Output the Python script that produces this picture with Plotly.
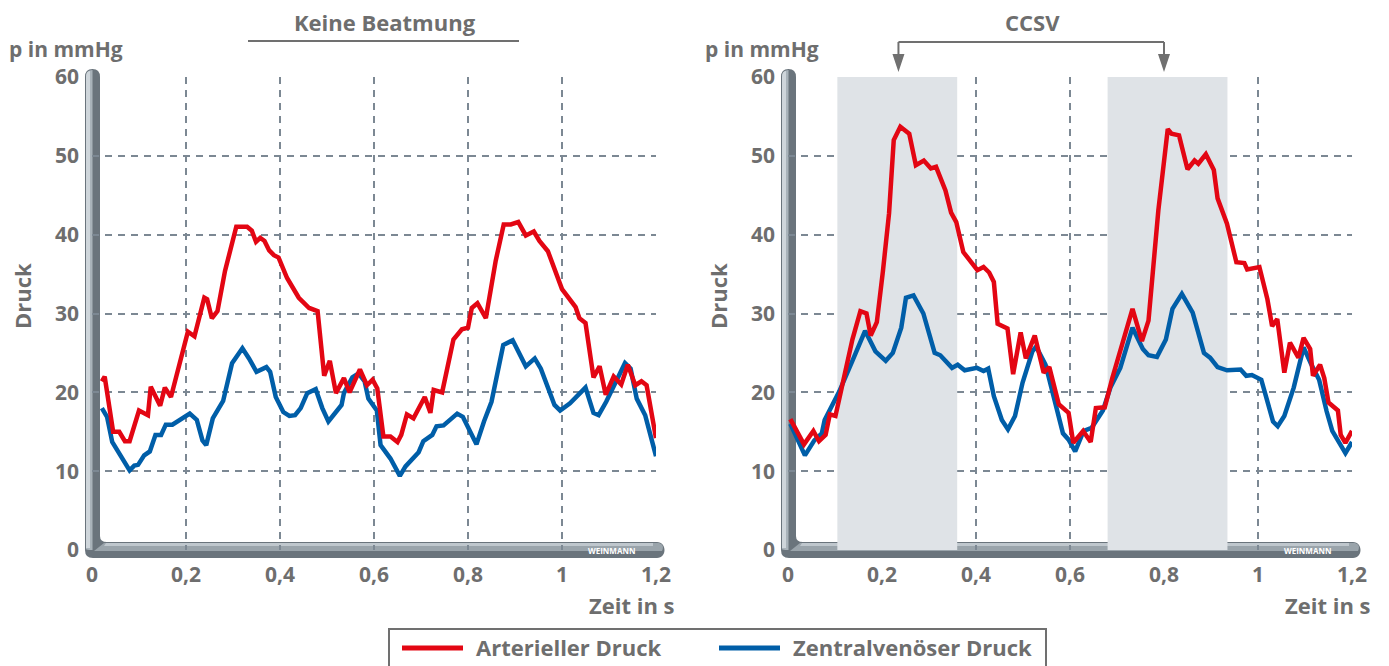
import plotly.graph_objects as go

W, H = 1389, 666

# ---------------- data ----------------
X_TICKS = [0, 0.2, 0.4, 0.6, 0.8, 1.0, 1.2]
X_TICK_LABELS = ["0", "0,2", "0,4", "0,6", "0,8", "1", "1,2"]
Y_TICKS = [0, 10, 20, 30, 40, 50, 60]

# Left: keine Beatmung
L_ART_T = [0.021, 0.027, 0.045, 0.058, 0.07, 0.08, 0.1, 0.119, 0.125, 0.145, 0.155, 0.168,
           0.204, 0.218, 0.239, 0.245, 0.255, 0.267, 0.283, 0.307, 0.33, 0.34, 0.349, 0.358,
           0.367, 0.377, 0.387, 0.397, 0.415, 0.44, 0.462, 0.48, 0.494, 0.506, 0.519, 0.536,
           0.548, 0.57, 0.585, 0.597, 0.607, 0.62, 0.635, 0.65, 0.658, 0.67, 0.684, 0.708,
           0.72, 0.727, 0.745, 0.769, 0.787, 0.8, 0.808, 0.82, 0.838, 0.859, 0.876, 0.891,
           0.907, 0.923, 0.94, 0.952, 0.97, 0.988, 1.0, 1.029, 1.037, 1.05, 1.067, 1.08,
           1.093, 1.11, 1.126, 1.14, 1.156, 1.169, 1.18, 1.2]
L_ART_P = [21.4, 22.0, 15.0, 15.0, 13.8, 13.8, 17.7, 17.1, 20.7, 18.3, 20.6, 19.4,
           27.7, 27.1, 32.0, 31.8, 29.4, 30.3, 35.4, 41.0, 41.0, 40.5, 39.1, 39.6,
           39.2, 38.0, 37.4, 37.1, 34.5, 32.0, 30.7, 30.3, 22.1, 24.0, 19.9, 21.8,
           20.0, 22.9, 20.9, 21.6, 20.5, 14.4, 14.4, 13.7, 14.6, 17.2, 16.7, 19.4,
           17.4, 20.3, 20.0, 26.7, 28.0, 28.2, 30.7, 31.3, 29.4, 36.7, 41.3, 41.3,
           41.6, 39.9, 40.4, 39.2, 37.9, 34.8, 33.1, 30.8, 29.4, 28.8, 21.9, 23.3,
           19.7, 22.0, 21.0, 23.5, 20.9, 21.4, 20.9, 14.2]

L_ZVD_T = [0.021, 0.032, 0.043, 0.066, 0.08, 0.09, 0.098, 0.111, 0.123, 0.135, 0.147, 0.157,
           0.171, 0.208, 0.223, 0.235, 0.243, 0.257, 0.279, 0.298, 0.32, 0.334, 0.35, 0.371,
           0.379, 0.391, 0.407, 0.42, 0.432, 0.444, 0.458, 0.476, 0.49, 0.503, 0.521, 0.531,
           0.536, 0.554, 0.567, 0.58, 0.588, 0.606, 0.614, 0.635, 0.655, 0.667, 0.695, 0.705,
           0.724, 0.733, 0.748, 0.777, 0.789, 0.818, 0.834, 0.85, 0.875, 0.895, 0.923, 0.942,
           0.955, 0.984, 0.996, 1.017, 1.05, 1.067, 1.078, 1.094, 1.134, 1.146, 1.159, 1.177, 1.2]
L_ZVD_P = [18.0, 16.9, 13.7, 11.6, 10.1, 10.7, 10.8, 12.0, 12.5, 14.6, 14.6, 15.9,
           15.9, 17.3, 16.5, 13.9, 13.3, 16.7, 18.9, 23.7, 25.6, 24.3, 22.6, 23.2,
           22.6, 19.4, 17.5, 17.0, 17.1, 18.0, 19.9, 20.4, 18.0, 16.3, 17.7, 18.4,
           19.9, 21.9, 22.4, 21.4, 19.2, 17.7, 13.3, 11.6, 9.4, 10.6, 12.4, 13.8,
           14.6, 15.7, 15.8, 17.3, 16.9, 13.4, 16.3, 18.8, 26.0, 26.6, 23.3, 24.3,
           23.0, 18.4, 17.7, 18.6, 20.6, 17.4, 17.1, 18.8, 23.7, 23.0, 19.2, 17.1, 11.9]

# Right: CCSV
R_ART_T = [0.005, 0.034, 0.054, 0.066, 0.08, 0.089, 0.101, 0.117, 0.137, 0.154, 0.167, 0.176,
           0.189, 0.202, 0.215, 0.225, 0.239, 0.258, 0.272, 0.289, 0.304, 0.315, 0.335, 0.347,
           0.358, 0.373, 0.387, 0.403, 0.416, 0.428, 0.438, 0.446, 0.467, 0.479, 0.495, 0.506,
           0.525, 0.544, 0.556, 0.576, 0.597, 0.607, 0.628, 0.644, 0.655, 0.674, 0.69, 0.711,
           0.733, 0.753, 0.767, 0.788, 0.808, 0.816, 0.832, 0.85, 0.865, 0.873, 0.889, 0.906,
           0.914, 0.934, 0.954, 0.971, 0.977, 1.003, 1.02, 1.03, 1.041, 1.056, 1.068, 1.086,
           1.097, 1.111, 1.117, 1.132, 1.141, 1.15, 1.17, 1.176, 1.186, 1.2]
R_ART_P = [16.6, 13.4, 15.1, 13.8, 14.6, 17.2, 17.0, 21.2, 26.7, 30.3, 30.0, 27.2,
           28.9, 35.4, 42.7, 52.0, 53.7, 52.8, 48.8, 49.4, 48.4, 48.6, 45.6, 42.8,
           41.6, 37.8, 36.7, 35.5, 35.9, 35.2, 34.0, 28.7, 28.1, 22.3, 27.6, 24.3,
           27.2, 22.5, 23.2, 18.5, 17.4, 13.6, 15.1, 13.7, 18.0, 18.1, 21.8, 26.1,
           30.6, 26.5, 29.1, 43.1, 53.4, 52.8, 52.6, 48.3, 49.4, 49.0, 50.2, 48.2,
           44.6, 41.4, 36.5, 36.4, 35.6, 35.9, 31.8, 28.4, 29.3, 22.5, 26.3, 24.4,
           26.9, 25.5, 22.1, 23.5, 21.8, 18.7, 17.7, 14.6, 13.6, 15.1]

R_ZVD_T = [0.005, 0.036, 0.056, 0.072, 0.078, 0.109, 0.137, 0.164, 0.186, 0.208, 0.223, 0.241,
           0.251, 0.267, 0.288, 0.312, 0.324, 0.349, 0.361, 0.376, 0.402, 0.416, 0.426, 0.438,
           0.455, 0.468, 0.483, 0.499, 0.52, 0.528, 0.548, 0.569, 0.585, 0.597, 0.611, 0.629,
           0.646, 0.67, 0.686, 0.707, 0.723, 0.733, 0.755, 0.767, 0.785, 0.804, 0.818, 0.838,
           0.861, 0.885, 0.898, 0.914, 0.934, 0.963, 0.975, 0.987, 1.007, 1.02, 1.032, 1.042,
           1.056, 1.076, 1.097, 1.113, 1.13, 1.146, 1.158, 1.186, 1.2]
R_ZVD_P = [16.0, 12.0, 13.9, 14.8, 16.5, 20.1, 24.0, 27.8, 25.2, 24.0, 25.0, 28.2,
           32.0, 32.3, 30.0, 25.0, 24.7, 23.1, 23.5, 22.8, 23.1, 22.7, 23.0, 19.5,
           16.5, 15.3, 17.0, 21.2, 25.2, 25.8, 23.5, 18.5, 14.8, 14.0, 12.5, 15.1,
           15.5, 17.7, 20.6, 23.1, 26.1, 28.2, 25.5, 24.7, 24.5, 26.7, 30.6, 32.5,
           30.1, 25.0, 24.4, 23.2, 22.8, 22.9, 22.1, 22.2, 21.6, 18.9, 16.3, 15.7,
           17.0, 20.6, 25.7, 23.6, 21.6, 17.6, 15.1, 12.3, 13.7]

CCSV_BANDS = [(0.105, 0.36), (0.68, 0.935)]
CCSV_ARROWS = [0.235, 0.80]

SERIES_NAMES = ["Arterieller Druck", "Zentralvenöser Druck"]
RED = "#e30613"
BLUE = "#005ea8"
TXT = "#6e6e6e"
GRID = "#7c8893"
FONT = "Open Sans"
FS = 22

# ---------------- geometry (pixels) ----------------
PLOT_TOP, PLOT_BOT = 77, 550
LX0, LX1 = 92, 656
RX0, RX1 = 788, 1352


def px(x):
    return x / W


def py(y):
    return 1 - y / H


fig = go.Figure()

for xa, ya, t1, p1, t2, p2 in [
    ("x", "y", L_ART_T, L_ART_P, L_ZVD_T, L_ZVD_P),
    ("x2", "y2", R_ART_T, R_ART_P, R_ZVD_T, R_ZVD_P),
]:
    fig.add_trace(go.Scatter(x=t2, y=p2, mode="lines", name=SERIES_NAMES[1],
                             line=dict(color=BLUE, width=4.5), xaxis=xa, yaxis=ya,
                             showlegend=False))
    fig.add_trace(go.Scatter(x=t1, y=p1, mode="lines", name=SERIES_NAMES[0],
                             line=dict(color=RED, width=4.5), xaxis=xa, yaxis=ya,
                             showlegend=False))

tickfont = dict(family=FONT, size=21, color=TXT, weight="bold")
axis_common = dict(range=[0, 1.2], tickvals=X_TICKS, ticktext=X_TICK_LABELS,
                   showgrid=True, gridcolor=GRID, gridwidth=1.6, griddash="7px,6px",
                   zeroline=False, showline=False, ticks="",
                   tickfont=tickfont, ticklabelstandoff=10, fixedrange=True)
yaxis_common = dict(range=[0, 60], tickvals=Y_TICKS,
                    showgrid=True, gridcolor=GRID, gridwidth=1.6, griddash="7px,6px",
                    zeroline=False, showline=False, ticks="",
                    tickfont=tickfont, ticklabelstandoff=12, fixedrange=True)

fig.update_layout(
    width=W, height=H,
    margin=dict(l=0, r=0, t=0, b=0, autoexpand=False),
    paper_bgcolor="white", plot_bgcolor="white",
    showlegend=False,
    xaxis=dict(domain=[px(LX0), px(LX1)], anchor="y", **axis_common),
    yaxis=dict(domain=[py(PLOT_BOT), py(PLOT_TOP)], anchor="x", **yaxis_common),
    xaxis2=dict(domain=[px(RX0), px(RX1)], anchor="y2", **axis_common),
    yaxis2=dict(domain=[py(PLOT_BOT), py(PLOT_TOP)], anchor="x2", **yaxis_common),
)

shapes = []
# shaded CCSV bands
for a, b in CCSV_BANDS:
    shapes.append(dict(type="rect", xref="x2", yref="y2", x0=a, x1=b, y0=0, y1=60,
                       fillcolor="#dfe3e7", line=dict(width=0), layer="between"))


def P(x, y):
    return f"{px(x):.6f},{py(y):.6f}"


def axis_bar(x0, x1):
    out = []
    l, r = x0 - 7, x0 + 8
    top = 69
    t, bt = 542, 558
    end = x1 + 9
    d = (f"M{P(l, top + 8)} Q{P(l, top)} {P((l + r) / 2, top)} Q{P(r, top)} {P(r, top + 8)} "
         f"L{P(r, t - 6)} Q{P(r, t)} {P(r + 7, t)} L{P(end - 8, t)} "
         f"C{P(end + 2, t)} {P(end + 2, bt)} {P(end - 8, bt)} "
         f"L{P(l + 8, bt)} Q{P(l, bt)} {P(l, bt - 8)} Z")
    out.append(dict(type="path", xref="paper", yref="paper", path=d,
                    fillcolor="#6a747c", line=dict(width=0), layer="between"))
    d = (f"M{P(r + 4, t + 1)} L{P(end - 8, t + 1)} C{P(end - 2, t + 1)} {P(end - 1, t + 5)} {P(end - 3, t + 9)} "
         f"L{P(l + 9, t + 9)} Z")
    out.append(dict(type="path", xref="paper", yref="paper", path=d,
                    fillcolor="#9aa4ab", line=dict(width=0), layer="between"))
    d = (f"M{P(r + 6, t + 1)} L{P(end - 12, t + 1)} L{P(end - 12, t + 4)} L{P(r + 4, t + 4)} Z")
    out.append(dict(type="path", xref="paper", yref="paper", path=d,
                    fillcolor="#bfc7cd", line=dict(width=0), layer="between"))
    d = (f"M{P(l + 1, top + 8)} Q{P(l + 1, top + 1)} {P((l + r) / 2, top + 1)} "
         f"L{P((l + r) / 2, t + 8)} Q{P(l + 1, t + 8)} {P(l + 1, bt - 9)} Z")
    out.append(dict(type="path", xref="paper", yref="paper", path=d,
                    fillcolor="#a9b3ba", line=dict(width=0), layer="between"))
    d = (f"M{P(l + 1, top + 8)} Q{P(l + 1, top + 2)} {P(l + 5, top + 2)} "
         f"L{P(l + 5, t + 6)} Q{P(l + 1, t + 6)} {P(l + 1, bt - 10)} Z")
    out.append(dict(type="path", xref="paper", yref="paper", path=d,
                    fillcolor="#cfd6db", line=dict(width=0), layer="between"))
    return out


shapes += axis_bar(LX0, LX1)
shapes += axis_bar(RX0, RX1)

# title underline (left)
shapes.append(dict(type="line", xref="paper", yref="paper", x0=px(248), x1=px(519),
                   y0=py(41), y1=py(41), line=dict(color="#707070", width=2)))
# CCSV bracket
shapes.append(dict(type="line", xref="x2", yref="paper", x0=CCSV_ARROWS[0], x1=CCSV_ARROWS[1],
                   y0=py(42), y1=py(42), line=dict(color="#707070", width=2)))
for xa in CCSV_ARROWS:
    shapes.append(dict(type="line", xref="x2", yref="paper", x0=xa, x1=xa,
                       y0=py(42), y1=py(56), line=dict(color="#707070", width=2)))
    shapes.append(dict(type="path", xref="x2", yref="paper", xsizemode="pixel", xanchor=xa,
                       path=f"M-6,{py(54):.6f} L6,{py(54):.6f} L0,{py(72):.6f} Z",
                       fillcolor="#707070", line=dict(width=0)))

# legend (drawn manually)
shapes.append(dict(type="rect", xref="paper", yref="paper", x0=px(389), x1=px(1046),
                   y0=py(629), y1=py(680), line=dict(color="#707070", width=2),
                   fillcolor="rgba(0,0,0,0)"))
shapes.append(dict(type="line", xref="paper", yref="paper", x0=px(402), x1=px(463),
                   y0=py(648), y1=py(648), line=dict(color=RED, width=5)))
shapes.append(dict(type="line", xref="paper", yref="paper", x0=px(719), x1=px(780),
                   y0=py(648), y1=py(648), line=dict(color=BLUE, width=5)))

fig.update_layout(shapes=shapes)

ann = []
bold = dict(family=FONT, size=FS, color=TXT, weight="bold")


def A(text, x, y, xanchor="center", yanchor="middle", font=None, angle=0, xref="paper", yref="paper"):
    ann.append(dict(text=text, x=x, y=y, xref=xref, yref=yref, xanchor=xanchor,
                    yanchor=yanchor, showarrow=False, font=font or bold, textangle=angle,
                    borderpad=0))


A("Keine Beatmung", px(385), py(22))
A("CCSV", px(1032), py(22))
for x0 in (LX0, RX0):
    off = x0 - LX0
    A("p in mmHg", px(8 + off), py(49), xanchor="left",
      font=dict(family=FONT, size=21, color=TXT, weight="bold"))
    A("Druck", px(22 + off), py(296), angle=-90)
for x1 in (LX1, RX1):
    A("Zeit in s", px(x1 + 20), py(605), xanchor="right")
for xa, ya in (("x", "y"), ("x2", "y2")):
    A("WEINMANN", 1.105, 0, font=dict(family=FONT, size=8, color="white", weight="bold"),
      xref=xa, yref=ya)
A(SERIES_NAMES[0], px(475), py(647), xanchor="left")
A(SERIES_NAMES[1], px(792), py(647), xanchor="left")

fig.update_layout(annotations=ann)

fig.write_html("out.html", config={"displayModeBar": False},
               post_script="document.body.style.margin='0';document.body.style.overflow='hidden';")
